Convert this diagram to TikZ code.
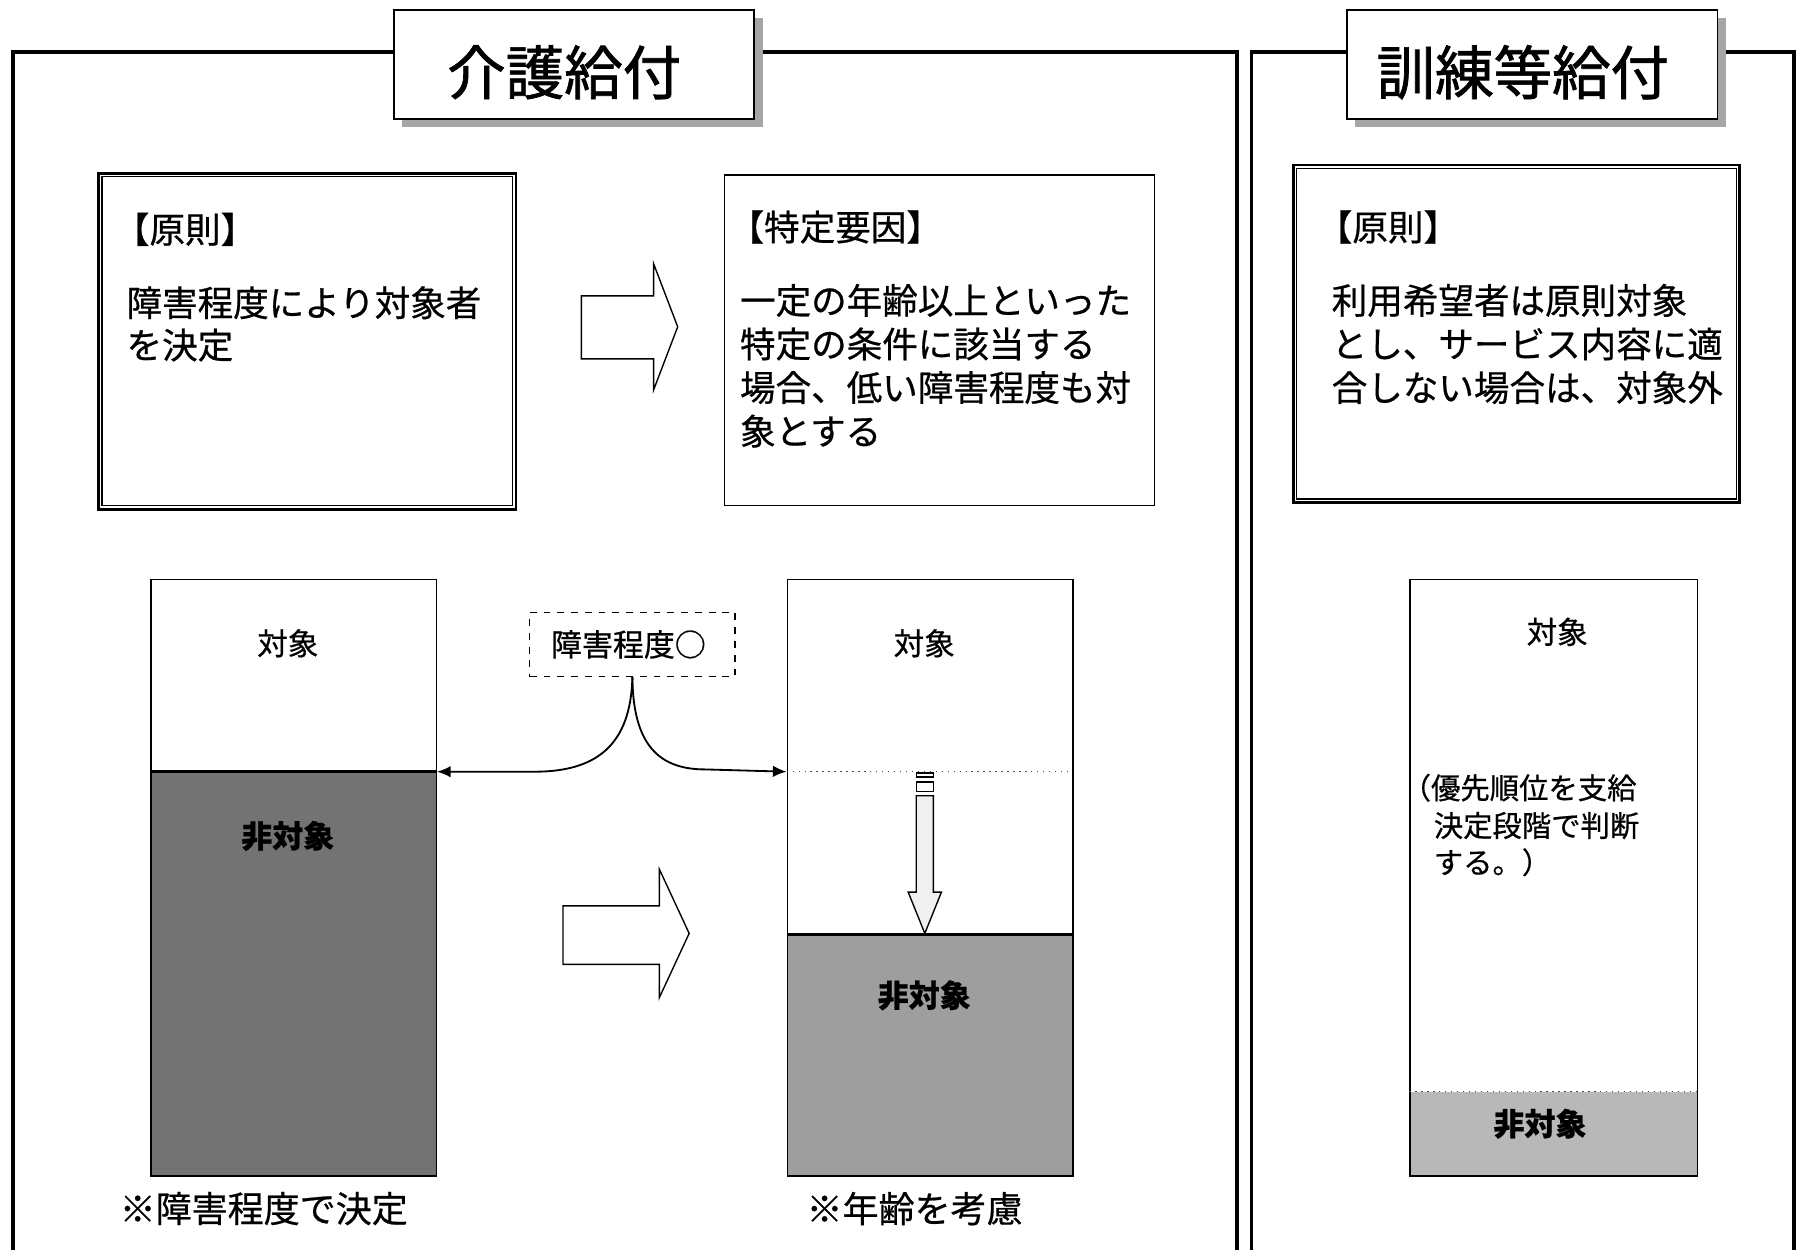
\documentclass[tikz,border=0pt]{standalone}
\usepackage{fontspec}
\setmainfont{Noto Sans CJK JP}[FakeBold=0.6]
\newfontfamily\titlefont{Noto Sans CJK JP}[FakeBold=1.2]
\usetikzlibrary{arrows.meta}
\begin{document}
\begin{tikzpicture}[x=0.5pt,y=-0.5pt,
  frameline/.style={line width=1.6pt},
  titlebox/.style={draw,line width=0.8pt,fill=white,inner sep=0pt,anchor=north west},
  shadowfill/.style={fill=black!35},
  titletxt/.style={inner sep=0pt,font=\titlefont\fontsize{25.5}{28}\selectfont},
  outerbox/.style={draw,line width=1.1pt,fill=white,inner sep=0pt,anchor=north west},
  plainbox/.style={draw,line width=0.6pt,fill=white,inner sep=0pt,anchor=north west},
  innerline/.style={line width=0.5pt},
  bodytxt/.style={inner sep=0pt,anchor=west,font=\fontsize{15.5}{18}\selectfont},
  coltxt/.style={inner sep=0pt,font=\fontsize{13.3}{16}\selectfont},
  boldtxt/.style={inner sep=0pt,font=\bfseries\fontsize{13.5}{16}\selectfont},
  smalltxt/.style={inner sep=0pt,anchor=west,font=\fontsize{12.8}{15}\selectfont},
  captxt/.style={inner sep=0pt,anchor=west,font=\fontsize{15.7}{18}\selectfont},
  column/.style={draw,line width=0.6pt,inner sep=0pt,anchor=north west,minimum width=124.5pt,minimum height=260pt},
  blockarrow/.style={draw,line width=0.6pt,fill=white},
  conn/.style={line width=0.8pt,-{Latex[length=6pt,width=5pt]}}
]
\useasboundingbox (0,0) rectangle (1568,1090);
\fill[white] (0,0) rectangle (1568,1090);

% ---------- outer frames ----------
\draw[frameline] (11.5,1095) -- (11.5,45.5) -- (1078.5,45.5) -- (1078.5,1095);
\draw[frameline] (1091.5,1095) -- (1091.5,45.5) -- (1564.5,45.5) -- (1564.5,1095);

% ---------- titles ----------
\fill[shadowfill] (351,16) rectangle (665,111);
\node[titlebox,minimum width=157pt,minimum height=47.5pt] (t1) at (343,8) {};
\node[titletxt] (t1txt) at (492,63) {介護給付};

\fill[shadowfill] (1182,16) rectangle (1505,111);
\node[titlebox,minimum width=161.5pt,minimum height=47.5pt] (t2) at (1174,8) {};
\node[titletxt] (t2txt) at (1328,63) {訓練等給付};

% ---------- principle box (left) ----------
\node[outerbox,minimum width=182pt,minimum height=146.5pt] (p1) at (85,150) {};
\draw[innerline] ([shift={(4,4)}]p1.north west) rectangle ([shift={(-4,-4)}]p1.south east);
\node[bodytxt] (p1h) at (99,200) {【原則】};
\node[bodytxt] (p1a) at (110,264) {障害程度により対象者};
\node[bodytxt] (p1b) at (110,301) {を決定};

% ---------- specific factor box ----------
\node[plainbox,minimum width=187.5pt,minimum height=144pt] (p2) at (631,152) {};
\node[bodytxt] (p2h) at (635,198) {【特定要因】};
\node[bodytxt] (p2a) at (645,262) {一定の年齢以上といった};
\node[bodytxt] (p2b) at (645,300) {特定の条件に該当する};
\node[bodytxt] (p2c) at (645,338) {場合、低い障害程度も対};
\node[bodytxt] (p2d) at (645,376) {象とする};

% ---------- principle box (right) ----------
\node[outerbox,minimum width=194.5pt,minimum height=147pt] (p3) at (1127,143) {};
\draw[innerline] ([shift={(4,4)}]p3.north west) rectangle ([shift={(-4,-4)}]p3.south east);
\node[bodytxt] (p3h) at (1148,198) {【原則】};
\node[bodytxt] (p3a) at (1161,262) {利用希望者は原則対象};
\node[bodytxt] (p3b) at (1161,300) {とし、サービス内容に適};
\node[bodytxt] (p3c) at (1161,338) {合しない場合は、対象外};

% ---------- block arrows ----------
\draw[blockarrow] (507,258) -- (570,258) -- (570,230) -- (591,285) -- (570,340) -- (570,313) -- (507,313) -- cycle;
\draw[blockarrow] (491,790) -- (575,790) -- (575,758) -- (601,814) -- (575,870) -- (575,841) -- (491,841) -- cycle;

% ---------- left column ----------
\fill[black!55] (131,673) rectangle (380,1025);
\node[column] (c1) at (131,505) {};
\draw[line width=1.2pt] (131,673) -- (380,673);
\coordinate (c1mark) at (381,673);
\node[coltxt] (c1a) at (251,561) {対象};
\node[boldtxt] (c1b) at (251,729) {非対象};

% ---------- middle column ----------
\fill[black!38] (686,815) rectangle (935,1025);
\node[column] (c2) at (686,505) {};
\draw[line width=1.2pt] (686,815) -- (935,815);
\draw[line width=0.6pt,dotted,black!70] (686,673) -- (935,673);
\coordinate (c2mark) at (686,673);
\node[coltxt] (c2a) at (806,561) {対象};
\node[boldtxt] (c2b) at (806,868) {非対象};
% downward arrow
\draw[line width=0.6pt,fill=white] (799,674) rectangle (814,677.5);
\draw[line width=0.6pt,fill=white] (799,682) rectangle (814,690);
\draw[line width=0.6pt,fill=black!6] (799,694) -- (814,694) -- (814,778) -- (821,778) -- (806.5,814) -- (792,778) -- (799,778) -- cycle;

% ---------- dashed label and connectors ----------
\node[draw,dashed,line width=0.6pt,inner sep=0pt,minimum width=89.5pt,minimum height=28pt,fill=white] (dg) at (551.5,562) {};
\node[coltxt,font=\fontsize{13.5}{16}\selectfont] (dgt) at (548,562) {障害程度○};
\draw[conn] (dg.south) .. controls (550,650) and (520,673) .. (466,673) -- (c1mark);
\draw[conn] (dg.south) .. controls (552,650) and (575,671) .. (615,671) -- (c2mark);

% ---------- captions ----------
\node[captxt] (cap1) at (104,1054) {※障害程度で決定};
\node[captxt] (cap2) at (703,1054) {※年齢を考慮};

% ---------- right column ----------
\fill[black!28] (1229,952) rectangle (1480,1025);
\node[column,minimum width=125.5pt] (c3) at (1229,505) {};
\draw[line width=0.6pt,dotted,black!70] (1229,952) -- (1480,952);
\node[coltxt] (c3a) at (1358,551) {対象};
\node[smalltxt] (c3p1) at (1222,687) {（優先順位を支給};
\node[smalltxt] (c3p2) at (1250,720) {決定段階で判断};
\node[smalltxt] (c3p3) at (1250,752) {する。）};
\node[boldtxt] (c3b) at (1343,980) {非対象};
\end{tikzpicture}
\end{document}
